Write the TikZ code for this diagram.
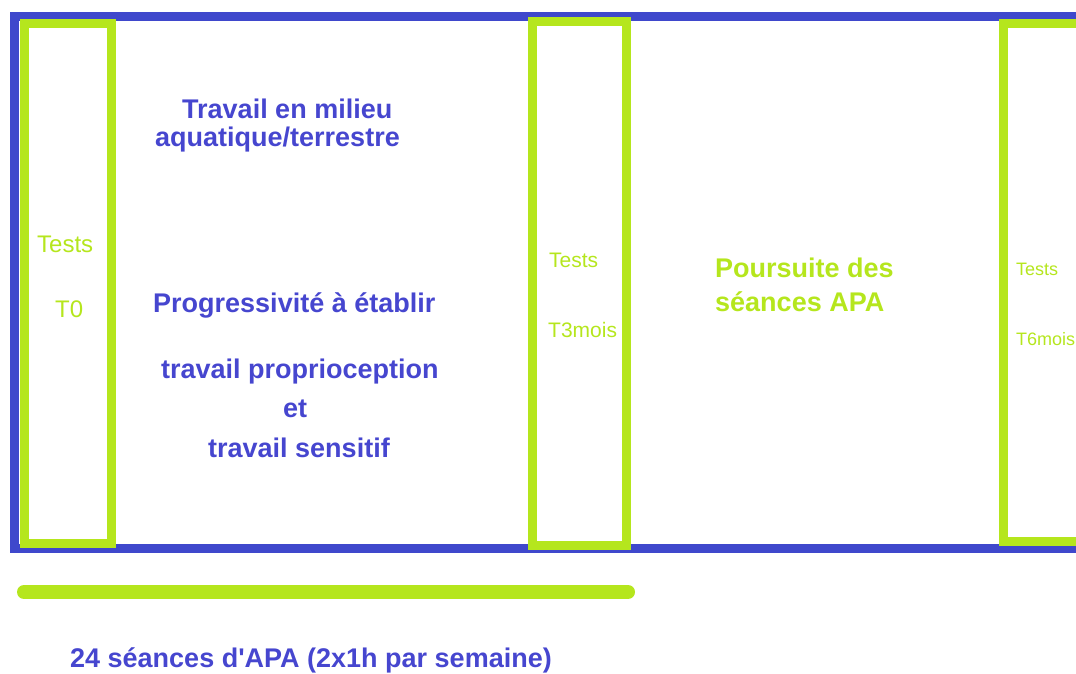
\documentclass[tikz,border=0pt]{standalone}
\usepackage{fontspec}
\setmainfont{Liberation Sans}[Ligatures=TeXOff]
\definecolor{frameblue}{HTML}{3F48CC}
\definecolor{textblue}{HTML}{4646CF}
\definecolor{lime}{HTML}{B5E61D}
\begin{document}
\begin{tikzpicture}[x=1pt,y=-1pt,
  bluetext/.style={anchor=base west,inner sep=0pt,text=textblue,font=\fontsize{27}{30}\selectfont\bfseries},
  greentext/.style={anchor=base west,inner sep=0pt,text=lime,font=\fontsize{27}{30}\selectfont\bfseries},
  testtext/.style={anchor=base west,inner sep=0pt,text=lime},
  phasebox/.style={draw=lime,line width=9pt},
  bigframe/.style={draw=frameblue,line width=9pt}]
\useasboundingbox (0,0) rectangle (1076,673);
% outer frame
\draw[bigframe] (14,16) rectangle (1095,548);
% test boxes
\draw[phasebox] (24.5,23) rectangle (111,543);
\draw[phasebox] (532.5,21) rectangle (626.5,545.5);
\draw[phasebox] (1003.5,23) rectangle (1100,541.5);
% test labels
\node[testtext,font=\fontsize{24}{26}\selectfont] (t0a) at (37,252) {Tests};
\node[testtext,font=\fontsize{24}{26}\selectfont] (t0b) at (55,317) {T0};
\node[testtext,font=\fontsize{21}{23}\selectfont] (t3a) at (549,267) {Tests};
\node[testtext,font=\fontsize{21}{23}\selectfont] (t3b) at (548,337) {T3mois};
\node[testtext,font=\fontsize{18}{20}\selectfont] (t6a) at (1016,275) {Tests};
\node[testtext,font=\fontsize{18}{20}\selectfont] (t6b) at (1016,345) {T6mois};
% blue texts
\node[bluetext] (l1) at (182,118) {Travail en milieu};
\node[bluetext] (l2) at (155,146) {aquatique/terrestre};
\node[bluetext] (l3) at (153,312) {Progressivité à établir};
\node[bluetext] (l4) at (161,378) {travail proprioception};
\node[bluetext] (l5) at (283,417) {et};
\node[bluetext] (l6) at (208,457) {travail sensitif};
% green texts
\node[greentext] (p1) at (715,277) {Poursuite des};
\node[greentext] (p2) at (715,311) {séances APA};
% bottom bar and caption
\coordinate (barL) at (24,592);
\coordinate (barR) at (628,592);
\draw[lime,line width=14pt,line cap=round] (barL) -- (barR);
\node[bluetext] (cap) at (70,667) {24 séances d'APA (2x1h par semaine)};
\end{tikzpicture}
\end{document}
